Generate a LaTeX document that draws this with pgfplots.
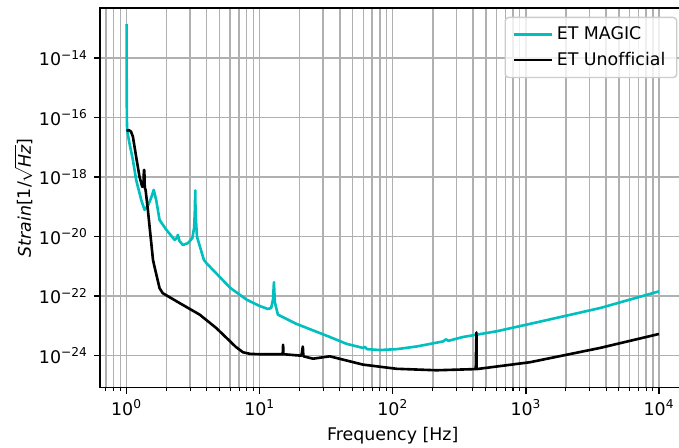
\documentclass[border=0pt]{standalone}
\usepackage{fontspec}
\setmainfont{DejaVu Sans}[Ligatures=NoCommon]
\usepackage{pgfplots}
\pgfplotsset{compat=1.18}
\definecolor{mplcyan}{rgb}{0,0.75,0.75}
\definecolor{gridgray}{HTML}{B0B0B0}
\definecolor{legframe}{HTML}{CCCCCC}

\begin{document}
\begin{tikzpicture}
\begin{axis}[
    at={(0,0)}, anchor=south west,
    scale only axis,
    width=336.4pt, height=218pt,
    xmode=log, ymode=log,
    xmin=0.631, xmax=15849,
    ymin=8.5e-26, ymax=4.8e-13,
    xtick={1,10,100,1000,10000},
    xticklabels={10\textsuperscript{0},10\textsuperscript{1},10\textsuperscript{2},10\textsuperscript{3},10\textsuperscript{4}},
    minor xtick={0.7,0.8,0.9,2,3,4,5,6,7,8,9,20,30,40,50,60,70,80,90,200,300,400,500,600,700,800,900,2000,3000,4000,5000,6000,7000,8000,9000},
    ytick={1e-24,1e-22,1e-20,1e-18,1e-16,1e-14},
    yticklabels={10\textsuperscript{−24},10\textsuperscript{−22},10\textsuperscript{−20},10\textsuperscript{−18},10\textsuperscript{−16},10\textsuperscript{−14}},
    minor ytick={},
    xmajorgrids=true, xminorgrids=true, ymajorgrids=true,
    major grid style={gridgray, line width=0.8pt},
    minor grid style={gridgray, line width=0.8pt},
    tick align=outside,
    tick pos=left,
    major tick length=3.5pt, minor tick length=2pt,
    major tick style={black, line width=0.8pt},
    minor tick style={black, line width=0.6pt},
    axis line style={line width=0.8pt},
    xlabel={Frequency [Hz]},
    ylabel={\textit{Strain}[1/$\sqrt{\mbox{\textit{Hz}}}$]},
    ylabel style={yshift=-3.5pt},
    legend style={at={(0.986,0.977)}, anchor=north east, draw=legframe, line width=0.8pt,
        rounded corners=2pt, fill=white, fill opacity=0.8, text opacity=1,
        row sep=1.5pt, inner xsep=4.5pt, inner ysep=3.5pt},
    legend cell align=left,
    legend image code/.code={\draw[#1] (0cm,0cm) -- (0.76cm,0cm);},
]
% ET MAGIC
\addplot[mplcyan, line width=1.5pt, line join=round] coordinates {
(1.0,1.38e-13) (1.002,3.16e-15) (1.005,1e-16) (1.01,3.80e-17) (1.05,1.41e-17)
(1.116,3.80e-18) (1.18,8.13e-19) (1.29,1.70e-19) (1.365,7.94e-20) (1.45,1.12e-19)
(1.53,2.0e-19) (1.60,3.72e-19) (1.67,1.70e-19) (1.77,3.63e-20) (1.99,1.70e-20)
(2.30,7.76e-21) (2.38,8.91e-21) (2.43,1.15e-20) (2.50,7.08e-21) (2.65,5.25e-21)
(2.89,6.03e-21) (3.12,8.91e-21) (3.22,2.0e-20) (3.26,7.94e-20) (3.28,3.55e-19)
(3.30,6.31e-20) (3.38,1e-20) (3.81,1.66e-21) (4.0,1.26e-21) (5.0,4.47e-22)
(6.0,1.91e-22) (8.0,7.59e-23) (10,4.68e-23) (11.5,3.72e-23) (12.2,3.98e-23)
(12.6,7.94e-23) (12.8,2.95e-22) (13.0,6.31e-23) (13.7,2.40e-23) (18.9,1.17e-23)
(33.6,4.27e-24) (44.9,2.51e-24) (59.8,1.82e-24) (61.6,2.0e-24) (64,1.66e-24)
(80,1.55e-24) (107,1.66e-24) (151,2.04e-24) (239,3.02e-24) (251,3.55e-24)
(262,3.16e-24) (338,4.27e-24) (603,6.61e-24) (1072,1.17e-23) (3600,3.98e-23)
(10000,1.45e-22)
};
\addlegendentry{ET MAGIC}
% ET Unofficial
\addplot[black, line width=1.5pt, line join=round] coordinates {
(1.0,3.55e-17) (1.04,3.80e-17) (1.08,3.39e-17) (1.116,2.29e-17) (1.18,4.90e-18)
(1.25,1.05e-18) (1.31,4.79e-19) (1.34,5.01e-19) (1.35,1.74e-18) (1.36,1.74e-18)
(1.37,4.47e-19) (1.39,3.72e-19) (1.446,7.94e-20) (1.58,1.66e-21) (1.62,1e-21)
(1.77,1.86e-22) (1.87,1.26e-22) (2.5,5.89e-23) (3.54,2.40e-23) (4.72,8.51e-24)
(5.8,3.5e-24) (6.6,2.0e-24) (7.5,1.3e-24) (8.5,1.15e-24) (10,1.12e-24) (14.9,1.12e-24)
(15.0,2.34e-24) (15.1,1.12e-24) (20.6,1e-24) (21.1,2.04e-24) (21.3,9.55e-25)
(25.2,7.94e-25) (33.6,9.55e-25) (59.8,5.01e-25) (107,3.63e-25) (213,3.24e-25)
(420,3.55e-25) (425,6.03e-24) (427,3.55e-25) (1072,6.03e-25) (3600,1.82e-24)
(10000,5.37e-24)
};
\addlegendentry{ET Unofficial}
\end{axis}
\pgfresetboundingbox
\path[use as bounding box] (-57.4pt,-34.4pt) rectangle (332.6pt,222.6pt);
\end{tikzpicture}
\end{document}
